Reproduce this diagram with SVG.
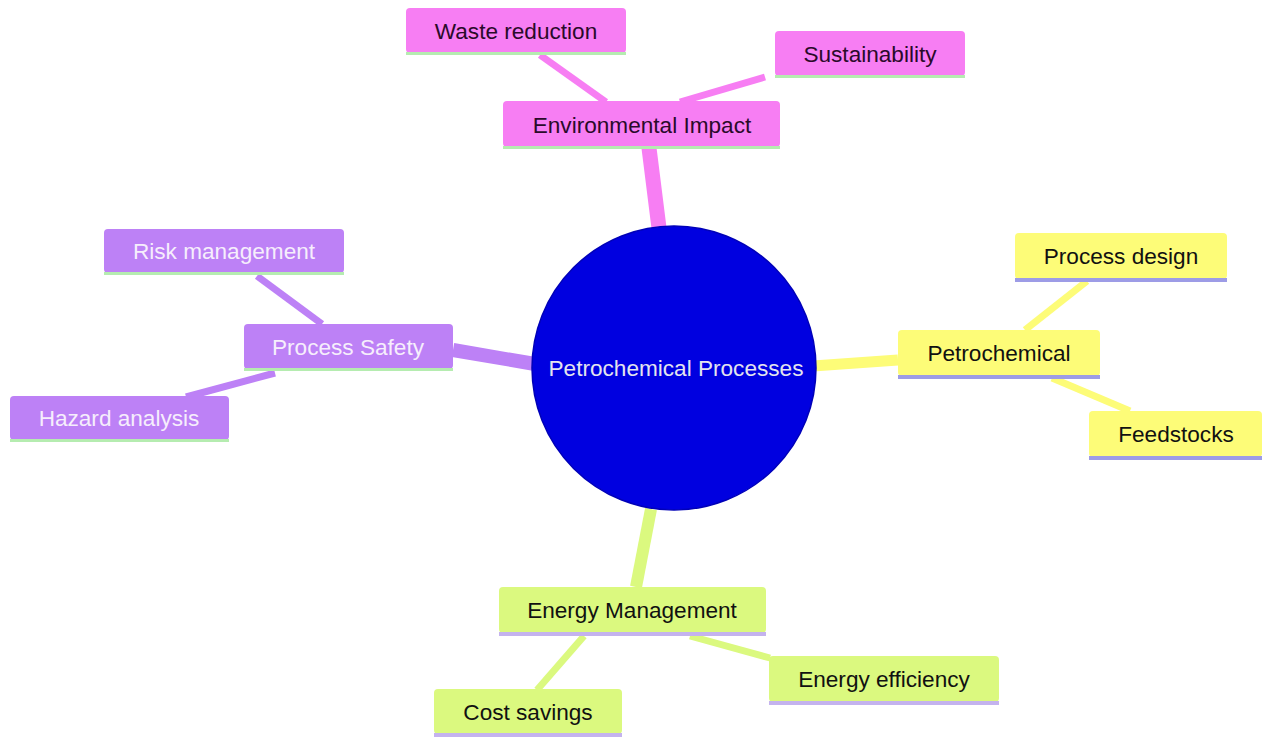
<svg xmlns="http://www.w3.org/2000/svg" width="1262" height="738" viewBox="0 0 1262 738">
<style>
text{font-family:"Liberation Sans",Arial,sans-serif;font-size:22.6px;text-anchor:middle;dominant-baseline:central}
.pk rect.b{fill:#f77ef3}.pk text{fill:#2a0a2a}
.pu rect.b{fill:#bd81f6}.pu text{fill:#f6eefc}
.ye rect.b{fill:#fdfc78}.ye text{fill:#111}
.gr rect.b{fill:#dbf97f}.gr text{fill:#111}
.ulg{fill:#b5ecb0}.ulb{fill:#9d9ce6}.ull{fill:#c4b3ee}
.c line{stroke-linecap:butt}
</style>
<rect width="1262" height="738" fill="#fff"/>
<g id="connectors" class="c">
<line x1="649" y1="148" x2="659" y2="228" stroke="#f77ef3" stroke-width="15"/>
<line x1="453" y1="350" x2="535" y2="364" stroke="#bd81f6" stroke-width="14"/>
<line x1="813" y1="366" x2="898" y2="360" stroke="#fdfc78" stroke-width="11"/>
<line x1="651" y1="509" x2="636" y2="587" stroke="#dbf97f" stroke-width="12"/>
<line x1="540" y1="55" x2="606" y2="102" stroke="#f77ef3" stroke-width="7"/>
<line x1="765" y1="77" x2="680" y2="102" stroke="#f77ef3" stroke-width="7"/>
<line x1="257" y1="276" x2="322" y2="324" stroke="#bd81f6" stroke-width="7"/>
<line x1="275" y1="373" x2="186" y2="397" stroke="#bd81f6" stroke-width="7"/>
<line x1="1087" y1="281" x2="1025" y2="330" stroke="#fdfc78" stroke-width="7"/>
<line x1="1052" y1="378" x2="1130" y2="411" stroke="#fdfc78" stroke-width="7"/>
<line x1="584" y1="636" x2="537" y2="690" stroke="#dbf97f" stroke-width="7"/>
<line x1="690" y1="636" x2="770" y2="658" stroke="#dbf97f" stroke-width="7"/>
</g>
<g id="root">
<circle cx="674" cy="368" r="142" fill="#0000e0" stroke="#0000b8" stroke-width="1.5"/>
<text x="676" y="368" fill="#e4e4ee">Petrochemical Processes</text>
</g>
<g id="env" class="pk"><rect class="b" x="503" y="101" width="277" height="46" rx="4"/><rect class="ulg" x="503" y="146" width="277" height="3"/><text x="642" y="125">Environmental Impact</text></g>
<g id="waste" class="pk"><rect class="b" x="406" y="8" width="220" height="45" rx="4"/><rect class="ulg" x="406" y="52" width="220" height="3"/><text x="516" y="31">Waste reduction</text></g>
<g id="sust" class="pk"><rect class="b" x="775" y="31" width="190" height="45" rx="4"/><rect class="ulg" x="775" y="75" width="190" height="3"/><text x="870" y="54">Sustainability</text></g>
<g id="safety" class="pu"><rect class="b" x="244" y="324" width="209" height="45" rx="4"/><rect class="ulg" x="244" y="368" width="209" height="3"/><text x="348" y="347">Process Safety</text></g>
<g id="risk" class="pu"><rect class="b" x="104" y="229" width="240" height="44" rx="4"/><rect class="ulg" x="104" y="272" width="240" height="3"/><text x="224" y="251">Risk management</text></g>
<g id="hazard" class="pu"><rect class="b" x="10" y="396" width="219" height="44" rx="4"/><rect class="ulg" x="10" y="439" width="219" height="3"/><text x="119" y="418">Hazard analysis</text></g>
<g id="petro" class="ye"><rect class="b" x="898" y="330" width="202" height="46" rx="4"/><rect class="ulb" x="898" y="375" width="202" height="4"/><text x="999" y="353">Petrochemical</text></g>
<g id="design" class="ye"><rect class="b" x="1015" y="233" width="212" height="46" rx="4"/><rect class="ulb" x="1015" y="278" width="212" height="4"/><text x="1121" y="256">Process design</text></g>
<g id="feed" class="ye"><rect class="b" x="1089" y="411" width="173" height="46" rx="4"/><rect class="ulb" x="1089" y="456" width="173" height="4"/><text x="1176" y="434">Feedstocks</text></g>
<g id="energy" class="gr"><rect class="b" x="499" y="587" width="267" height="46" rx="4"/><rect class="ull" x="499" y="632" width="267" height="4"/><text x="632" y="610">Energy Management</text></g>
<g id="eff" class="gr"><rect class="b" x="769" y="656" width="230" height="46" rx="4"/><rect class="ull" x="769" y="701" width="230" height="4"/><text x="884" y="679">Energy efficiency</text></g>
<g id="cost" class="gr"><rect class="b" x="434" y="689" width="188" height="45" rx="4"/><rect class="ull" x="434" y="733" width="188" height="4"/><text x="528" y="712">Cost savings</text></g>
</svg>
